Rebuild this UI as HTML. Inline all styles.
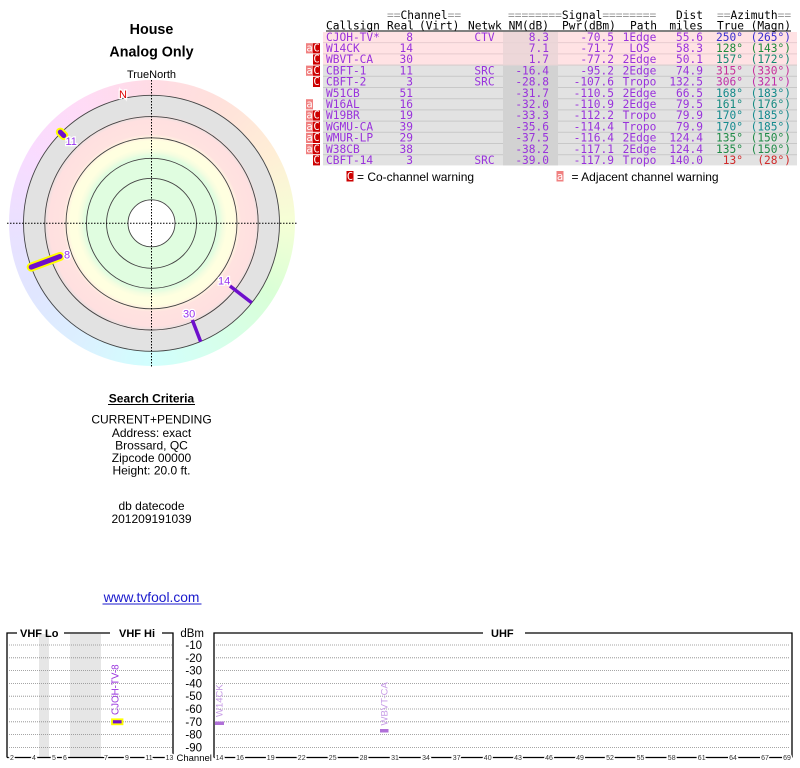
<!DOCTYPE html>
<html><head><meta charset="utf-8">
<style>
html,body{margin:0;padding:0;background:#fff;}
#wrap{position:relative;width:800px;height:768px;overflow:hidden;background:#fff;}
#ring{position:absolute;left:8.5px;top:80.3px;width:286px;height:286px;border-radius:50%;
background:conic-gradient(from 0deg, hsl(345,100%,93%), hsl(10,100%,93%) 30deg, hsl(35,100%,92%) 60deg, hsl(75,100%,92%) 90deg, hsl(115,100%,92%) 120deg, hsl(150,100%,92%) 150deg, hsl(178,100%,91%) 180deg, hsl(205,100%,93%) 210deg, hsl(230,100%,94%) 240deg, hsl(260,100%,94%) 270deg, hsl(290,100%,93%) 300deg, hsl(315,100%,93%) 330deg, hsl(345,100%,93%) 360deg);}
#disc{position:absolute;left:23.5px;top:95.3px;width:256px;height:256px;border-radius:50%;
background:radial-gradient(circle closest-side, #fff 0, #fff 23.5px, #e0fde0 23.5px, #e0fde0 67px, #f4fde0 71px, #ffffe0 75px, #ffffe0 82px, #fff0e0 86px, #ffe2e0 89px, #ffe0e0 103px, #f0e0e0 106px, #e2e2e2 109px, #e2e2e2 128px);}
svg{position:absolute;left:0;top:0;}
.s{font-family:"Liberation Sans",Arial,sans-serif;}
.m{font-family:"DejaVu Sans Mono","Liberation Mono",monospace;font-size:11.2px;fill:#9932dc;}
.h{fill:#000;}
.g{fill:#999;}
.bw{font-family:"DejaVu Sans Mono","Liberation Mono",monospace;font-size:10.5px;fill:#fff;}
.lbl{font-family:"Liberation Sans",Arial,sans-serif;font-size:11px;fill:#9933ee;paint-order:stroke;stroke:#fff;stroke-width:2.5px;}
.tk{font-family:"Liberation Sans",Arial,sans-serif;font-size:7px;fill:#333;paint-order:stroke;stroke:#fff;stroke-width:3px;}
.db{font-family:"Liberation Sans",Arial,sans-serif;font-size:11.5px;fill:#000;}
</style></head>
<body>
<div id="wrap">
<div id="ring"></div>
<div id="disc"></div>
<svg width="800" height="768" viewBox="0 0 800 768" xmlns="http://www.w3.org/2000/svg">
<text class="s" x="151.5" y="34" font-size="14.3" font-weight="bold" text-anchor="middle">House</text>
<text class="s" x="151.5" y="56.5" font-size="14.3" font-weight="bold" text-anchor="middle">Analog Only</text>
<text class="s" x="151.5" y="78" font-size="11" text-anchor="middle">TrueNorth</text>

<g fill="none" stroke="#444" stroke-width="0.9">
<circle cx="151.5" cy="223.3" r="128"/>
<circle cx="151.5" cy="223.3" r="106.7"/>
<circle cx="151.5" cy="223.3" r="85.5"/>
<circle cx="151.5" cy="223.3" r="65"/>
<circle cx="151.5" cy="223.3" r="45"/>
<circle cx="151.5" cy="223.3" r="23.5"/>
</g>
<g stroke="#000" stroke-width="1" stroke-dasharray="1.5,1.5">
<line x1="7" y1="223.3" x2="297" y2="223.3"/>
<line x1="151.5" y1="80" x2="151.5" y2="368"/>
</g>
<text class="s" x="123" y="98" font-size="11" fill="#dd0000" text-anchor="middle" style="paint-order:stroke;stroke:#fff;stroke-width:2.5px">N</text>

<line x1="31.2" y1="267.1" x2="60" y2="256.5" stroke="#ffff00" stroke-width="9" stroke-linecap="round"/>
<line x1="31.2" y1="267.1" x2="60" y2="256.5" stroke="#6e0fcc" stroke-width="5" stroke-linecap="round"/>
<line x1="63.8" y1="135.6" x2="60.3" y2="132.1" stroke="#ffff00" stroke-width="9" stroke-linecap="round"/>
<line x1="63.8" y1="135.6" x2="60.3" y2="132.1" stroke="#6e0fcc" stroke-width="5" stroke-linecap="round"/>
<line x1="230" y1="286" x2="251.7" y2="302.7" stroke="#6e0fcc" stroke-width="3.5"/>
<line x1="192.3" y1="320" x2="200.7" y2="341.7" stroke="#6e0fcc" stroke-width="3.5"/>
<text class="lbl" x="64" y="258.5">8</text>
<text class="lbl" x="65.5" y="145">11</text>
<text class="lbl" x="218" y="284.5">14</text>
<text class="lbl" x="183" y="317.5">30</text>

<g class="s" font-size="12" text-anchor="middle" fill="#000">
<text x="151.5" y="402.5" font-weight="bold">Search Criteria</text>
<text x="151.5" y="423.5">CURRENT+PENDING</text>
<text x="151.5" y="437">Address: exact</text>
<text x="151.5" y="449.5">Brossard, QC</text>
<text x="151.5" y="462">Zipcode 00000</text>
<text x="151.5" y="474.5">Height: 20.0 ft.</text>
<text x="151.5" y="510">db datecode</text>
<text x="151.5" y="523">201209191039</text>
<text x="151.5" y="602" font-size="13.8" fill="#1a1acc">www.tvfool.com</text>
</g>
<line x1="108" y1="404.5" x2="195" y2="404.5" stroke="#000" stroke-width="1"/>
<line x1="102.5" y1="604" x2="201.5" y2="604" stroke="#1a1acc" stroke-width="1"/>

<g>
<rect x="323" y="32" width="474" height="10.2" fill="#ffe2e4"/>
<rect x="323" y="43.2" width="474" height="10.2" fill="#ffe2e4"/>
<rect x="323" y="54.4" width="474" height="10.2" fill="#ffe2e4"/>
<rect x="323" y="42.2" width="474" height="1" fill="#e6c6ca"/>
<rect x="323" y="53.4" width="474" height="1" fill="#e6c6ca"/>
<rect x="323" y="64.6" width="474" height="1" fill="#d0c4c4"/>
<rect x="323" y="65.6" width="474" height="99.8" fill="#e2e2e2"/>
<g fill="#c8c8c8">
<rect x="323" y="75.8" width="474" height="1"/>
<rect x="323" y="87" width="474" height="1"/>
<rect x="323" y="98.2" width="474" height="1"/>
<rect x="323" y="109.4" width="474" height="1"/>
<rect x="323" y="120.6" width="474" height="1"/>
<rect x="323" y="131.8" width="474" height="1"/>
<rect x="323" y="143" width="474" height="1"/>
<rect x="323" y="154.2" width="474" height="1"/>
</g>
<rect x="503" y="32" width="55" height="33.6" fill="#e8d4d6" opacity="0.8"/>
<rect x="503" y="65.6" width="55" height="99.8" fill="#d2d2d2"/>
</g>

<g>
<rect x="306" y="43.2" width="7" height="10.2" fill="#f08080"/><rect x="313" y="43.2" width="7" height="10.2" fill="#cc0000"/>
<rect x="313" y="54.4" width="7" height="10.2" fill="#cc0000"/>
<rect x="306" y="65.6" width="7" height="10.2" fill="#f08080"/><rect x="313" y="65.6" width="7" height="10.2" fill="#cc0000"/>
<rect x="313" y="76.8" width="7" height="10.2" fill="#cc0000"/>
<rect x="306" y="99.2" width="7" height="10.2" fill="#f08080"/>
<rect x="306" y="110.4" width="7" height="10.2" fill="#f08080"/><rect x="313" y="110.4" width="7" height="10.2" fill="#cc0000"/>
<rect x="306" y="121.6" width="7" height="10.2" fill="#f08080"/><rect x="313" y="121.6" width="7" height="10.2" fill="#cc0000"/>
<rect x="306" y="132.8" width="7" height="10.2" fill="#f08080"/><rect x="313" y="132.8" width="7" height="10.2" fill="#cc0000"/>
<rect x="306" y="144" width="7" height="10.2" fill="#f08080"/><rect x="313" y="144" width="7" height="10.2" fill="#cc0000"/>
<rect x="313" y="155.2" width="7" height="10.2" fill="#cc0000"/>
</g>
<g class="bw" text-anchor="middle">
<text x="309.5" y="51.5">a</text><text x="316.5" y="51.5">C</text>
<text x="316.5" y="62.7">C</text>
<text x="309.5" y="73.9">a</text><text x="316.5" y="73.9">C</text>
<text x="316.5" y="85.1">C</text>
<text x="309.5" y="107.5">a</text>
<text x="309.5" y="118.7">a</text><text x="316.5" y="118.7">C</text>
<text x="309.5" y="129.9">a</text><text x="316.5" y="129.9">C</text>
<text x="309.5" y="141.1">a</text><text x="316.5" y="141.1">C</text>
<text x="309.5" y="152.3">a</text><text x="316.5" y="152.3">C</text>
<text x="316.5" y="163.5">C</text>
</g>

<g class="m">
<text x="387" y="19"><tspan class="g">==</tspan><tspan class="h">Channel</tspan><tspan class="g">==</tspan></text>
<text x="508" y="19"><tspan class="g">========</tspan><tspan class="h">Signal</tspan><tspan class="g">========</tspan></text>
<text x="703" y="19" text-anchor="end" class="h">Dist</text>
<text x="717" y="19"><tspan class="g">==</tspan><tspan class="h">Azimuth</tspan><tspan class="g">==</tspan></text>
<text x="326" y="29.5" class="h">Callsign</text>
<text x="387" y="29.5" class="h">Real</text>
<text x="419" y="29.5" class="h">(Virt)</text>
<text x="468" y="29.5" class="h">Netwk</text>
<text x="549" y="29.5" class="h" text-anchor="end">NM(dB)</text>
<text x="562" y="29.5" class="h">Pwr(dBm)</text>
<text x="630" y="29.5" class="h">Path</text>
<text x="703" y="29.5" class="h" text-anchor="end">miles</text>
<text x="717" y="29.5" class="h">True</text>
<text x="791" y="29.5" class="h" text-anchor="end">(Magn)</text>
</g>
<line x1="326" y1="31" x2="791" y2="31" stroke="#000" stroke-width="1"/>

<g class="m">
<text x="326" y="40.8">CJOH-TV*</text><text x="413" y="40.8" text-anchor="end">8</text><text x="484.5" y="40.8" text-anchor="middle">CTV</text><text x="549" y="40.8" text-anchor="end">8.3</text><text x="614" y="40.8" text-anchor="end">-70.5</text><text x="639.5" y="40.8" text-anchor="middle">1Edge</text><text x="703" y="40.8" text-anchor="end">55.6</text><text x="743" y="40.8" text-anchor="end" style="fill:#3a2ed0">250°</text><text x="791" y="40.8" text-anchor="end" style="fill:#3a2ed0">(265°)</text>
<text x="326" y="52">W14CK</text><text x="413" y="52" text-anchor="end">14</text><text x="549" y="52" text-anchor="end">7.1</text><text x="614" y="52" text-anchor="end">-71.7</text><text x="639.5" y="52" text-anchor="middle">LOS</text><text x="703" y="52" text-anchor="end">58.3</text><text x="743" y="52" text-anchor="end" style="fill:#1e8a3a">128°</text><text x="791" y="52" text-anchor="end" style="fill:#1e8a3a">(143°)</text>
<text x="326" y="63.2">WBVT-CA</text><text x="413" y="63.2" text-anchor="end">30</text><text x="549" y="63.2" text-anchor="end">1.7</text><text x="614" y="63.2" text-anchor="end">-77.2</text><text x="639.5" y="63.2" text-anchor="middle">2Edge</text><text x="703" y="63.2" text-anchor="end">50.1</text><text x="743" y="63.2" text-anchor="end" style="fill:#158a72">157°</text><text x="791" y="63.2" text-anchor="end" style="fill:#158a72">(172°)</text>
<text x="326" y="74.4">CBFT-1</text><text x="413" y="74.4" text-anchor="end">11</text><text x="484.5" y="74.4" text-anchor="middle">SRC</text><text x="549" y="74.4" text-anchor="end">-16.4</text><text x="614" y="74.4" text-anchor="end">-95.2</text><text x="639.5" y="74.4" text-anchor="middle">2Edge</text><text x="703" y="74.4" text-anchor="end">74.9</text><text x="743" y="74.4" text-anchor="end" style="fill:#c8309a">315°</text><text x="791" y="74.4" text-anchor="end" style="fill:#c8309a">(330°)</text>
<text x="326" y="85.6">CBFT-2</text><text x="413" y="85.6" text-anchor="end">3</text><text x="484.5" y="85.6" text-anchor="middle">SRC</text><text x="549" y="85.6" text-anchor="end">-28.8</text><text x="614" y="85.6" text-anchor="end">-107.6</text><text x="639.5" y="85.6" text-anchor="middle">Tropo</text><text x="703" y="85.6" text-anchor="end">132.5</text><text x="743" y="85.6" text-anchor="end" style="fill:#c030a8">306°</text><text x="791" y="85.6" text-anchor="end" style="fill:#c030a8">(321°)</text>
<text x="326" y="96.8">W51CB</text><text x="413" y="96.8" text-anchor="end">51</text><text x="549" y="96.8" text-anchor="end">-31.7</text><text x="614" y="96.8" text-anchor="end">-110.5</text><text x="639.5" y="96.8" text-anchor="middle">2Edge</text><text x="703" y="96.8" text-anchor="end">66.5</text><text x="743" y="96.8" text-anchor="end" style="fill:#158a8a">168°</text><text x="791" y="96.8" text-anchor="end" style="fill:#158a8a">(183°)</text>
<text x="326" y="108">W16AL</text><text x="413" y="108" text-anchor="end">16</text><text x="549" y="108" text-anchor="end">-32.0</text><text x="614" y="108" text-anchor="end">-110.9</text><text x="639.5" y="108" text-anchor="middle">2Edge</text><text x="703" y="108" text-anchor="end">79.5</text><text x="743" y="108" text-anchor="end" style="fill:#158a80">161°</text><text x="791" y="108" text-anchor="end" style="fill:#158a80">(176°)</text>
<text x="326" y="119.2">W19BR</text><text x="413" y="119.2" text-anchor="end">19</text><text x="549" y="119.2" text-anchor="end">-33.3</text><text x="614" y="119.2" text-anchor="end">-112.2</text><text x="639.5" y="119.2" text-anchor="middle">Tropo</text><text x="703" y="119.2" text-anchor="end">79.9</text><text x="743" y="119.2" text-anchor="end" style="fill:#158a8e">170°</text><text x="791" y="119.2" text-anchor="end" style="fill:#158a8e">(185°)</text>
<text x="326" y="130.4">WGMU-CA</text><text x="413" y="130.4" text-anchor="end">39</text><text x="549" y="130.4" text-anchor="end">-35.6</text><text x="614" y="130.4" text-anchor="end">-114.4</text><text x="639.5" y="130.4" text-anchor="middle">Tropo</text><text x="703" y="130.4" text-anchor="end">79.9</text><text x="743" y="130.4" text-anchor="end" style="fill:#158a8e">170°</text><text x="791" y="130.4" text-anchor="end" style="fill:#158a8e">(185°)</text>
<text x="326" y="141.6">WMUR-LP</text><text x="413" y="141.6" text-anchor="end">29</text><text x="549" y="141.6" text-anchor="end">-37.5</text><text x="614" y="141.6" text-anchor="end">-116.4</text><text x="639.5" y="141.6" text-anchor="middle">2Edge</text><text x="703" y="141.6" text-anchor="end">124.4</text><text x="743" y="141.6" text-anchor="end" style="fill:#1e8a46">135°</text><text x="791" y="141.6" text-anchor="end" style="fill:#1e8a46">(150°)</text>
<text x="326" y="152.8">W38CB</text><text x="413" y="152.8" text-anchor="end">38</text><text x="549" y="152.8" text-anchor="end">-38.2</text><text x="614" y="152.8" text-anchor="end">-117.1</text><text x="639.5" y="152.8" text-anchor="middle">2Edge</text><text x="703" y="152.8" text-anchor="end">124.4</text><text x="743" y="152.8" text-anchor="end" style="fill:#1e8a46">135°</text><text x="791" y="152.8" text-anchor="end" style="fill:#1e8a46">(150°)</text>
<text x="326" y="164">CBFT-14</text><text x="413" y="164" text-anchor="end">3</text><text x="484.5" y="164" text-anchor="middle">SRC</text><text x="549" y="164" text-anchor="end">-39.0</text><text x="614" y="164" text-anchor="end">-117.9</text><text x="639.5" y="164" text-anchor="middle">Tropo</text><text x="703" y="164" text-anchor="end">140.0</text><text x="743" y="164" text-anchor="end" style="fill:#d02a2a">13°</text><text x="791" y="164" text-anchor="end" style="fill:#d02a2a">(28°)</text>
</g>

<rect x="346.5" y="171" width="7" height="10.5" fill="#cc0000"/>
<text class="bw" x="350" y="179.8" text-anchor="middle">C</text>
<text class="s" x="357" y="181" font-size="12">= Co-channel warning</text>
<rect x="556.5" y="171" width="7" height="10.5" fill="#f08080"/>
<text class="bw" x="560" y="179.8" text-anchor="middle">a</text>
<text class="s" x="571.5" y="181" font-size="12">= Adjacent channel warning</text>

<rect x="39" y="634" width="10" height="123" fill="#e6e6e6"/>
<rect x="70" y="634" width="31" height="123" fill="#e6e6e6"/>
<g stroke="#888" stroke-width="0.8" stroke-dasharray="1,1">
<line x1="9" y1="645" x2="172" y2="645"/>
<line x1="9" y1="657.8" x2="172" y2="657.8"/>
<line x1="9" y1="670.6" x2="172" y2="670.6"/>
<line x1="9" y1="683.4" x2="172" y2="683.4"/>
<line x1="9" y1="696.2" x2="172" y2="696.2"/>
<line x1="9" y1="709" x2="172" y2="709"/>
<line x1="9" y1="721.8" x2="172" y2="721.8"/>
<line x1="9" y1="734.6" x2="172" y2="734.6"/>
<line x1="9" y1="747.4" x2="172" y2="747.4"/>
<line x1="216" y1="645" x2="790" y2="645"/>
<line x1="216" y1="657.8" x2="790" y2="657.8"/>
<line x1="216" y1="670.6" x2="790" y2="670.6"/>
<line x1="216" y1="683.4" x2="790" y2="683.4"/>
<line x1="216" y1="696.2" x2="790" y2="696.2"/>
<line x1="216" y1="709" x2="790" y2="709"/>
<line x1="216" y1="721.8" x2="790" y2="721.8"/>
<line x1="216" y1="734.6" x2="790" y2="734.6"/>
<line x1="216" y1="747.4" x2="790" y2="747.4"/>
</g>
<g stroke="#000" stroke-width="1.3" fill="none">
<polyline points="17,633 7,633 7,757.5"/>
<line x1="64" y1="633" x2="110" y2="633"/>
<polyline points="162,633 173,633 173,757.5"/>
<line x1="7" y1="757.5" x2="173" y2="757.5"/>
<polyline points="483,633 214,633 214,757.5"/>
<polyline points="525,633 792,633 792,757.5"/>
<line x1="214" y1="757.5" x2="792" y2="757.5"/>
</g>
<g class="s" font-size="11" font-weight="bold">
<text x="20" y="637">VHF Lo</text>
<text x="119" y="637">VHF Hi</text>
<text x="491" y="637">UHF</text>
</g>
<text class="db" x="204" y="637" text-anchor="end" font-size="11">dBm</text>
<g class="db" text-anchor="end">
<text x="202" y="649">-10</text>
<text x="202" y="661.8">-20</text>
<text x="202" y="674.6">-30</text>
<text x="202" y="687.4">-40</text>
<text x="202" y="700.2">-50</text>
<text x="202" y="713">-60</text>
<text x="202" y="725.8">-70</text>
<text x="202" y="738.6">-80</text>
<text x="202" y="751.4">-90</text>
</g>
<text class="s" x="176.5" y="761" font-size="9.5">Channel</text>
<g class="tk" text-anchor="middle">
<text x="12" y="760">2</text><text x="34" y="760">4</text><text x="54" y="760">5</text><text x="65" y="760">6</text><text x="106" y="760">7</text><text x="127" y="760">9</text><text x="149" y="760">11</text><text x="169.5" y="760">13</text>
<text x="219.5" y="760">14</text><text x="240" y="760">16</text><text x="270.7" y="760">19</text><text x="301.7" y="760">22</text><text x="332.7" y="760">25</text><text x="363.5" y="760">28</text><text x="395" y="760">31</text><text x="426" y="760">34</text><text x="456.7" y="760">37</text><text x="487.7" y="760">40</text><text x="518" y="760">43</text><text x="549" y="760">46</text><text x="580" y="760">49</text><text x="610" y="760">52</text><text x="640.5" y="760">55</text><text x="671.7" y="760">58</text><text x="701.7" y="760">61</text><text x="733" y="760">64</text><text x="765" y="760">67</text><text x="787" y="760">69</text>
</g>

<rect x="112" y="719.3" width="10.5" height="5" fill="#6e0fcc" stroke="#ffff00" stroke-width="1.8"/>
<text class="s" font-size="9.8" fill="#9933dd" transform="translate(118.5,715) rotate(-90)">CJOH-TV-8</text>
<rect x="215" y="721.5" width="9" height="3.5" fill="#b070d8"/>
<text class="s" font-size="9.5" fill="#c69ae6" transform="translate(222.5,717) rotate(-90)">W14CK</text>
<rect x="380" y="729" width="8.5" height="3.5" fill="#b070d8"/>
<text class="s" font-size="9.5" fill="#c69ae6" transform="translate(387.5,725.5) rotate(-90)">WBVT-CA</text>
</svg>
</div>
</body></html>
